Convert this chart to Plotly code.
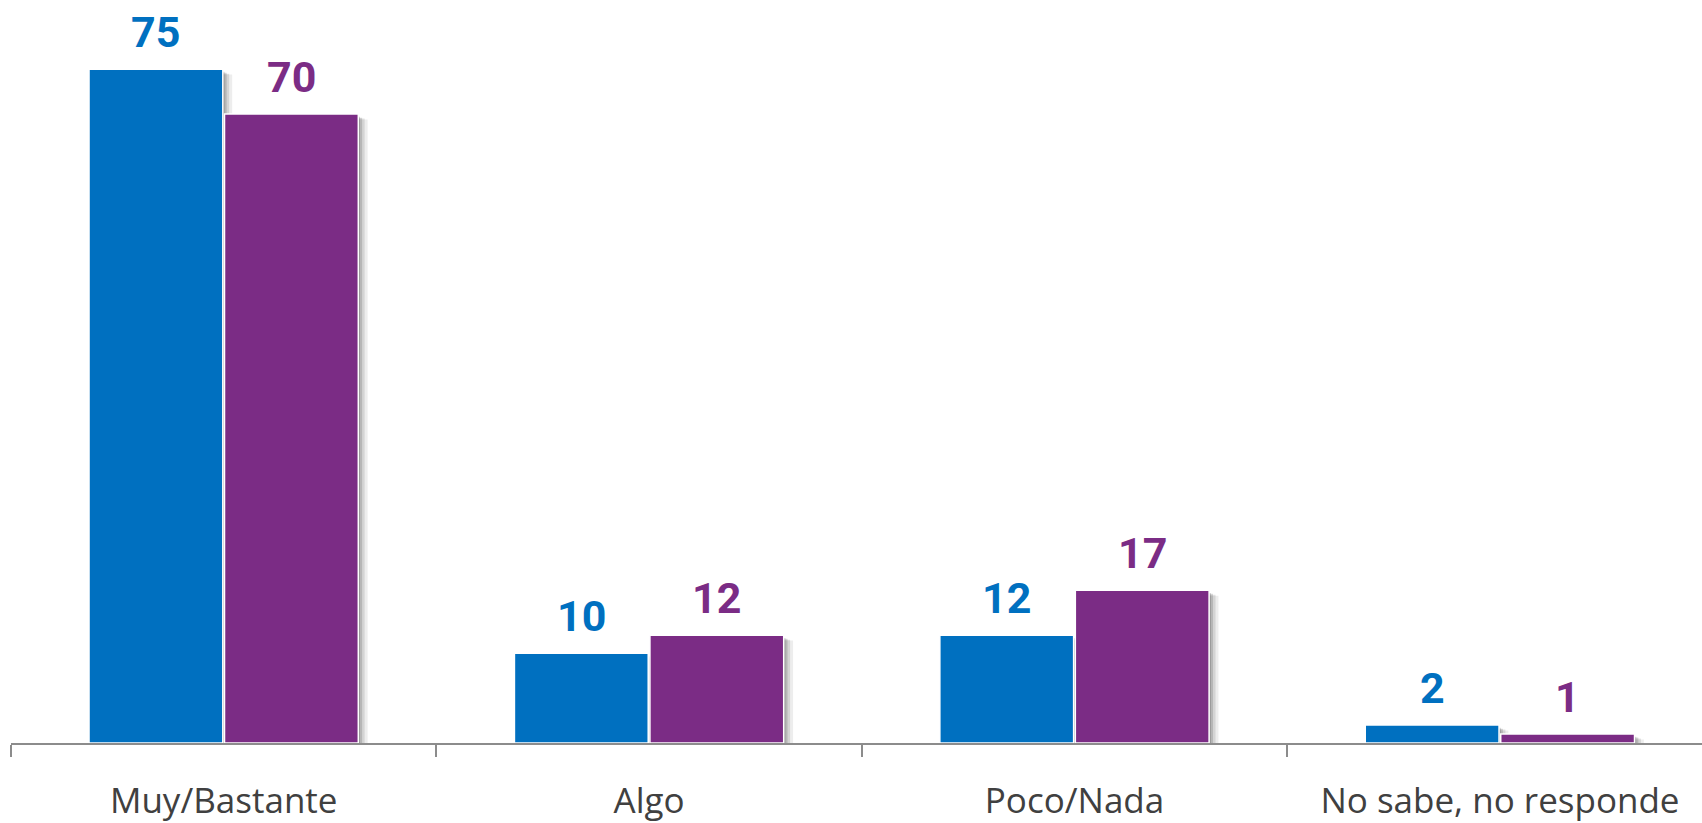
import plotly.graph_objects as go

categories = ["Muy/Bastante", "Algo", "Poco/Nada", "No sabe, no responde"]
serie_a = [75, 10, 12, 2]
serie_b = [70, 12, 17, 1]

BLUE = "#0070C0"
PURPLE = "#7B2C85"
BAR_W = 0.3145
OFF_A = -0.3166
OFF_B = 0.0019
idx = list(range(len(categories)))

fig = go.Figure()

# soft drop shadows
for dx, dy, op in [(0.022, 0.6, 0.07), (0.015, 0.5, 0.10), (0.009, 0.4, 0.14), (0.004, 0.3, 0.18)]:
    for vals, off in [(serie_a, OFF_A), (serie_b, OFF_B)]:
        fig.add_trace(go.Bar(
            x=categories, y=vals, base=[-dy] * len(vals),
            width=BAR_W, offset=off + dx,
            marker=dict(color=f"rgba(0,0,0,{op})", line=dict(width=0)),
            hoverinfo="skip", showlegend=False))

for vals, off, col in [(serie_a, OFF_A, BLUE), (serie_b, OFF_B, PURPLE)]:
    fig.add_trace(go.Bar(
        x=categories, y=vals, width=BAR_W, offset=off,
        marker=dict(color=col, line=dict(color="white", width=1.5)),
        showlegend=False))
    for i, v in zip(idx, vals):
        fig.add_annotation(
            x=i + off + BAR_W / 2, y=v, text=f"<b>{v}</b>",
            showarrow=False, yanchor="bottom", yshift=10,
            font=dict(family="Roboto", size=43, color=col))

fig.update_layout(
    barmode="overlay",
    width=1702, height=823,
    margin=dict(l=11, r=0, t=0, b=78, pad=0),
    plot_bgcolor="white", paper_bgcolor="white",
    xaxis=dict(
        type="category", range=[-0.5, 3.475], tickson="boundaries",
        showline=True, linecolor="#8c8c8c", linewidth=2,
        ticks="outside", ticklen=12, tickwidth=2, tickcolor="#8c8c8c",
        ticklabelstandoff=26,
        tickfont=dict(family="Open Sans", size=35, color="#404040"),
        showgrid=False, zeroline=False),
    yaxis=dict(range=[0, 82.7], visible=False, showgrid=False, zeroline=False),
)

fig.write_html("out.html", config={"displayModeBar": False},
               post_script="document.body.style.margin='0px';")
